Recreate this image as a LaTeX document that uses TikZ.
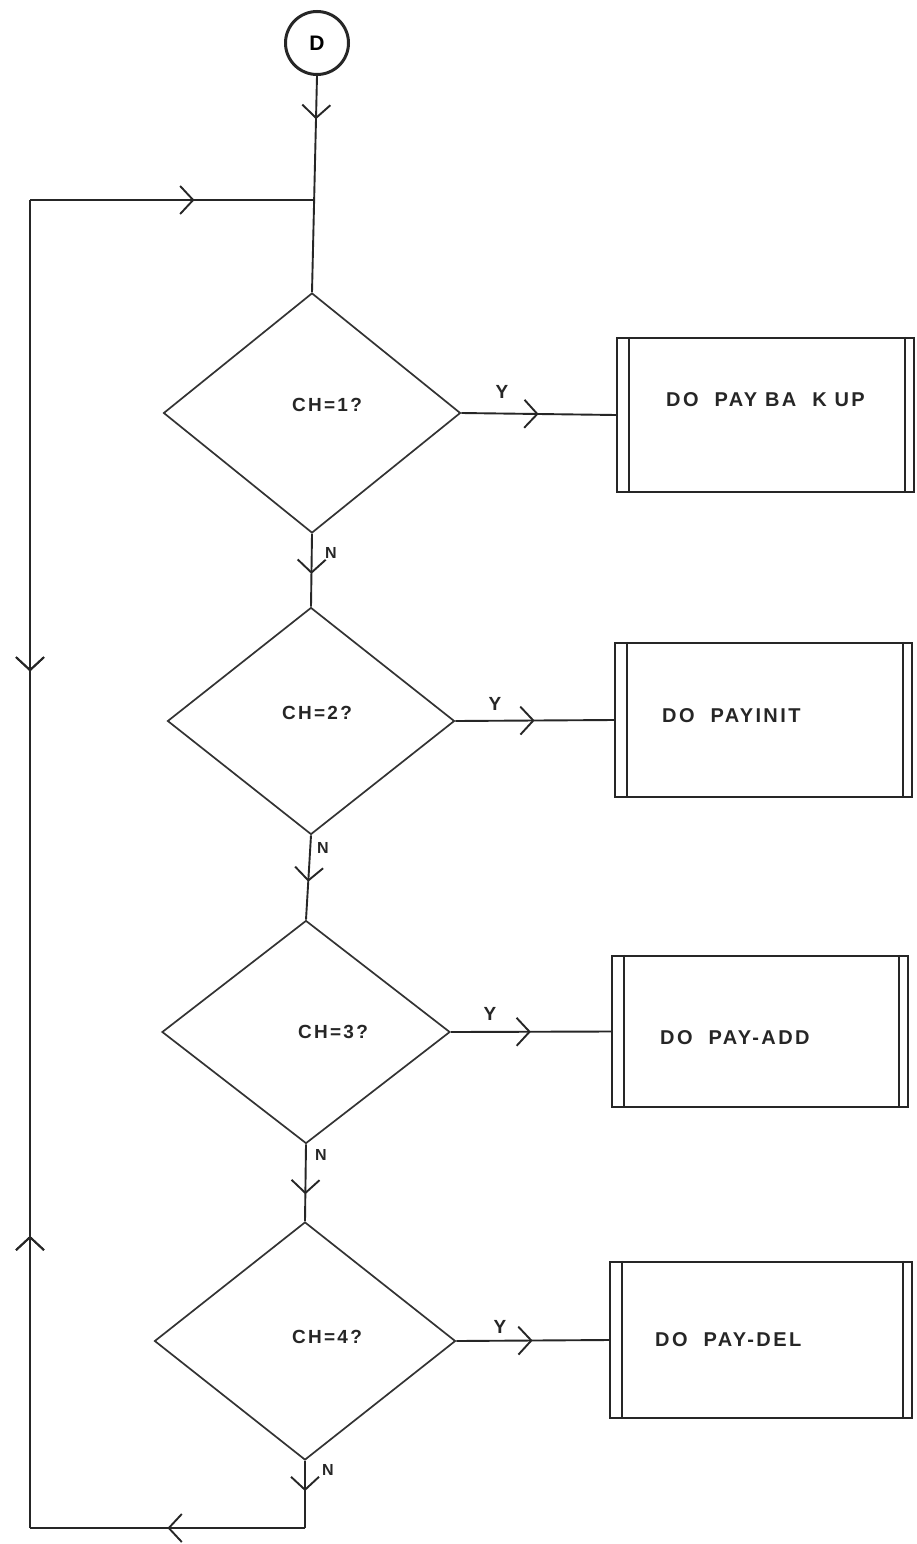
\documentclass[tikz,border=0pt]{standalone}
\usepackage{fontspec}
\setmainfont{Liberation Sans}
\newfontfamily\hand[LetterSpace=12]{Liberation Sans}
\usetikzlibrary{shapes.geometric,arrows.meta,decorations.markings}
\begin{document}
\begin{tikzpicture}[x=1pt,y=-1pt]
\tikzset{
  ink/.style={draw=black!85, line width=1.9pt},
  chev/.tip={Straight Barb[length=13pt,width=28pt]},
  arrowat/.style={postaction={decorate},decoration={markings,mark=at position #1 with {\arrow{chev}}}},
  arrowback/.style={postaction={decorate},decoration={markings,mark=at position #1 with {\arrowreversed{chev}}}},
  dia/.style={diamond, draw=black!80, line width=1.7pt, inner sep=0pt},
  proc/.style={rectangle, draw=black!85, line width=2.2pt, inner sep=0pt},
  qtext/.style={font=\hand\bfseries\fontsize{19}{22}\selectfont, text=black!85, inner sep=0pt},
  btext/.style={font=\hand\bfseries\fontsize{20}{23}\selectfont, text=black!85, inner sep=0pt, anchor=west},
  yn/.style={font=\hand\bfseries\fontsize{19}{21}\selectfont, text=black!85, inner sep=0pt},
  nn/.style={font=\hand\bfseries\fontsize{16}{18}\selectfont, text=black!85, inner sep=0pt},
}
\fill[white] (0,0) rectangle (916,1544);
\useasboundingbox (0,0) rectangle (916,1544);

% start connector
\node[circle, draw=black!85, line width=3pt, minimum size=63pt, inner sep=0pt,
      font=\fontsize{21}{23}\selectfont\bfseries] (c) at (317,43) {D};

% decisions
\node[dia, minimum width=297pt, minimum height=240pt] (d1) at (312,413) {};
\node[dia, minimum width=287pt, minimum height=227pt] (d2) at (311,721) {};
\node[dia, minimum width=288pt, minimum height=223pt] (d3) at (306,1032) {};
\node[dia, minimum width=301pt, minimum height=238pt] (d4) at (305,1341) {};
\node[qtext] (t1) at (327,405) {CH=1?};
\node[qtext] (t2) at (317,713) {CH=2?};
\node[qtext] (t3) at (333,1032) {CH=3?};
\node[qtext] (t4) at (327,1337) {CH=4?};

% processes
\node[proc, minimum width=297pt, minimum height=154pt] (b1) at (765.5,415) {};
\node[proc, minimum width=297pt, minimum height=154pt] (b2) at (763.5,720) {};
\node[proc, minimum width=296pt, minimum height=151pt] (b3) at (760,1031.5) {};
\node[proc, minimum width=302pt, minimum height=156pt] (b4) at (761,1340) {};
\foreach \b in {b1,b2,b3,b4}{
  \draw[ink,line width=2.2pt] ([xshift=13pt]\b.north west) -- ([xshift=13pt]\b.south west);
  \draw[ink,line width=2.2pt] ([xshift=-10pt]\b.north east) -- ([xshift=-10pt]\b.south east);
}
\node[btext] (p1) at (666,400) {DO\ \ PAY BA\ \ K UP};
\node[btext] (p2) at (662,716) {DO\ \ PAYINIT};
\node[btext] (p3) at (660,1038) {DO\ \ PAY-ADD};
\node[btext] (p4) at (655,1340) {DO\ \ PAY-DEL};

% junction coordinates
\coordinate (j) at (313.5,200);
\coordinate (tl) at (30,200);
\coordinate (bl) at (30,1528);
\coordinate (k) at (305,1528);

% main flow
\draw[ink, arrowat=0.2] (c.south) -- (d1.north);
\draw[ink, arrowat=0.55] (d1.south) -- (d2.north);
\draw[ink, arrowat=0.55] (d2.south) -- (d3.north);
\draw[ink, arrowat=0.65] (d3.south) -- (d4.north);
\draw[ink, arrowat=0.45] (d4.south) -- (k);

% Y branches
\draw[ink, arrowat=0.5] (d1.east) -- (b1.west);
\draw[ink, arrowat=0.5] (d2.east) -- (b2.west);
\draw[ink, arrowat=0.5] (d3.east) -- (b3.west);
\draw[ink, arrowat=0.5] (d4.east) -- (b4.west);

% loop back
\draw[ink, arrowat=0.5] (k) -- (bl);
\draw[ink, arrowat=0.22, arrowback=0.645] (bl) -- (tl);
\draw[ink, arrowat=0.58] (tl) -- (j);

% labels
\node[yn] (y1) at (502,392) {Y};
\node[yn] (y2) at (495,704) {Y};
\node[yn] (y3) at (490,1014) {Y};
\node[yn] (y4) at (500,1327) {Y};
\node[nn] (n1) at (331,553) {N};
\node[nn] (n2) at (323,848) {N};
\node[nn] (n3) at (321,1155) {N};
\node[nn] (n4) at (328,1470) {N};
\end{tikzpicture}
\end{document}
